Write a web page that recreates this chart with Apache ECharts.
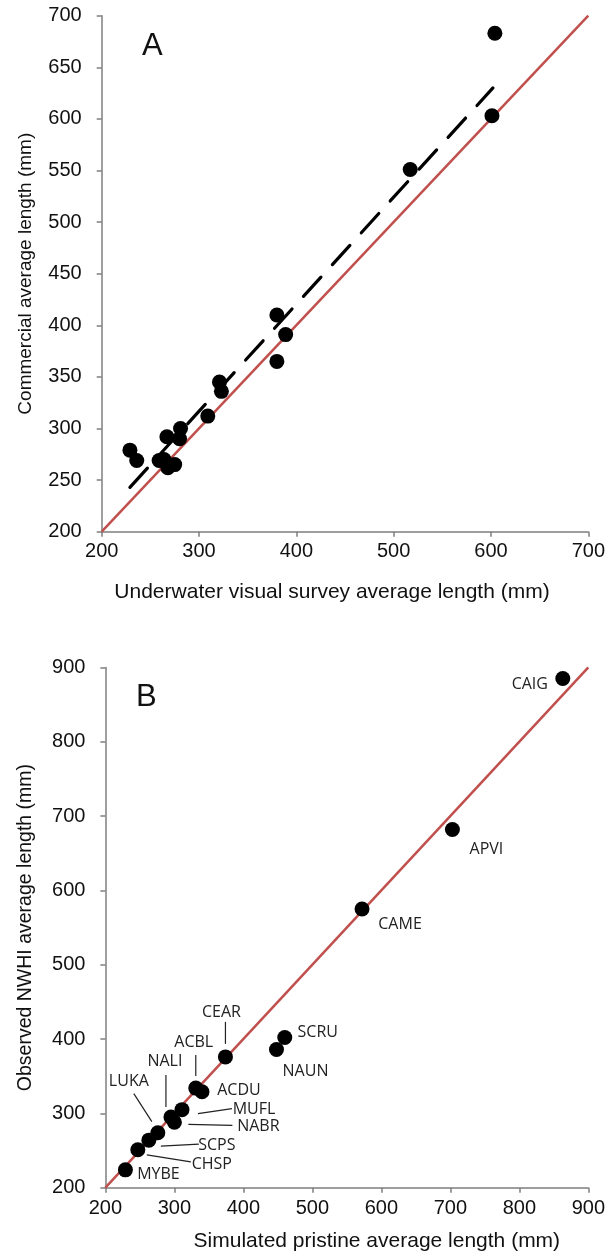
<!DOCTYPE html>
<html><head><meta charset="utf-8">
<script src="https://cdn.jsdelivr.net/npm/echarts@6/dist/echarts.min.js"></script>
<style>html,body{margin:0;padding:0;background:#fff}#c{width:608px;height:1259px}</style>
</head><body><div id="c"></div>
<script>
// ---------- Panel A data ----------
const aUVS        = [229, 236, 259, 264, 268, 275, 267, 280, 281, 309, 321, 323, 380, 380, 389, 517, 601, 604];
const aCommercial = [279, 269, 269, 270, 262, 265, 292, 290, 300, 312, 345, 336, 365, 410, 391, 551, 603, 683];
const aFitX = [229, 602];
const aFitY = [243, 630];
const aTicks = [200, 300, 400, 500, 600, 700];
const aYTicks = [200, 250, 300, 350, 400, 450, 500, 550, 600, 650, 700];

// ---------- Panel B data ----------
const bSpecies   = ['CAIG', 'APVI', 'CAME', 'SCRU', 'NAUN', 'CEAR', 'ACBL', 'ACDU', 'MUFL', 'NALI', 'NABR', 'LUKA', 'SCPS', 'CHSP', 'MYBE'];
const bSimulated = [863, 703, 572, 460, 448, 374, 331, 340, 311, 295, 300, 276, 263, 247, 229];
const bObserved  = [885, 682, 575, 402, 386, 376, 334, 329, 305, 295, 288, 274, 264, 251, 224];
const bTicks = [200, 300, 400, 500, 600, 700, 800, 900];

// ---------- label layout (pixels, relative to the point) ----------
const labelOffsets = {
  CAIG: [-33, 6], APVI: [34, 20], CAME: [38, 15], SCRU: [33, -5], NAUN: [29, 22],
  CEAR: [-4, -44], ACBL: [-2, -46], ACDU: [37, -1], MUFL: [72, 0], NALI: [-6, -56],
  NABR: [84, 4], LUKA: [-29, -51], SCPS: [68, 5], CHSP: [74, 15], MYBE: [33, 5]
};
const leaderLines = {
  CEAR: [[0, -35], [0, -13]], ACBL: [[0, -33], [0, -12]], MUFL: [[16, 4], [50, -1]],
  NALI: [[-5, -42], [-5, -10]], NABR: [[14, 2], [58, 3]], LUKA: [[-24, -39], [-6, -11]],
  SCPS: [[12, 6], [50, 4]], CHSP: [[9, 5], [53, 12]]
};

const RED = '#C0504D';
const AX = '#7f7f7f';
const tickFont = { fontFamily: 'Liberation Sans', fontSize: 20, color: '#111' };

function axisBase(ticks, extra) {
  return Object.assign({
    type: 'value', min: ticks[0], max: ticks[ticks.length - 1],
    interval: ticks[1] - ticks[0],
    splitLine: { show: false },
    axisLine: { show: true, onZero: false, lineStyle: { color: AX, width: 1.5 } },
    axisTick: { show: true, inside: false, length: 5, lineStyle: { color: AX, width: 1.5 } },
    axisLabel: Object.assign({}, tickFont),
    nameLocation: 'middle'
  }, extra);
}
function nameStyle(size, pad) {
  return { fontFamily: 'Liberation Sans', fontSize: size, color: '#111', padding: pad || 0 };
}

const chart = echarts.init(document.getElementById('c'), null, { renderer: 'canvas' });

const bData = bSpecies.map((n, i) => ({
  name: n, value: [bSimulated[i], bObserved[i]],
  label: { offset: labelOffsets[n] }
}));
const bLeader = bData.filter(d => leaderLines[d.name]);

chart.setOption({
  animation: false,
  backgroundColor: '#fff',
  title: [
    { text: 'A', left: 137, top: 26, textStyle: { fontFamily: 'Liberation Sans', fontSize: 31, fontWeight: 'normal', color: '#111' } },
    { text: 'B', left: 131, top: 677, textStyle: { fontFamily: 'Liberation Sans', fontSize: 31, fontWeight: 'normal', color: '#111' } }
  ],
  grid: [
    { left: 101.7, top: 15.7, width: 489.3, height: 516 },
    { left: 105.4, top: 667.4, width: 483, height: 520.3 }
  ],
  xAxis: [
    axisBase(aTicks, { gridIndex: 0, name: 'Underwater visual survey average length (mm)', nameGap: 50,
      nameTextStyle: nameStyle(21, [0, 26, 0, 0]), axisLabel: Object.assign({ margin: 10 }, tickFont) }),
    axisBase(bTicks, { gridIndex: 1, name: 'Simulated pristine average length (mm)', nameGap: 43,
      nameTextStyle: nameStyle(21, [0, 0, 0, 60]), axisLabel: Object.assign({ margin: 11 }, tickFont) })
  ],
  yAxis: [
    axisBase(aYTicks, { gridIndex: 0, name: 'Commercial average length (mm)', nameGap: 66,
      nameTextStyle: nameStyle(19, [0, 0, 0, 0]), axisLabel: Object.assign({ margin: 20 }, tickFont) }),
    axisBase(bTicks, { gridIndex: 1, name: 'Observed NWHI average length (mm)', nameGap: 70,
      nameTextStyle: nameStyle(19.5, [0, 0, 0, 0]), axisLabel: Object.assign({ margin: 20 }, tickFont) })
  ],
  series: [
    { type: 'line', xAxisIndex: 0, yAxisIndex: 0, data: [[aTicks[0], aTicks[0]], [aTicks[aTicks.length - 1], aTicks[aTicks.length - 1]]],
      symbol: 'none', lineStyle: { color: RED, width: 2.5 }, z: 1, silent: true },
    { type: 'line', xAxisIndex: 0, yAxisIndex: 0, data: aFitX.map((x, i) => [x, aFitY[i]]),
      symbol: 'none', lineStyle: { color: '#000', width: 3.2, type: [26, 17], cap: 'round' }, z: 2, silent: true },
    { type: 'scatter', xAxisIndex: 0, yAxisIndex: 0, data: aUVS.map((x, i) => [x, aCommercial[i]]),
      symbol: 'circle', symbolSize: 15, itemStyle: { color: '#000', opacity: 1 }, z: 3 },

    { type: 'line', xAxisIndex: 1, yAxisIndex: 1, data: [[bTicks[0], bTicks[0]], [bTicks[bTicks.length - 1], bTicks[bTicks.length - 1]]],
      symbol: 'none', lineStyle: { color: RED, width: 2.5 }, z: 1, silent: true },
    { type: 'custom', xAxisIndex: 1, yAxisIndex: 1, z: 2, silent: true,
      data: bLeader.map(d => d.value),
      renderItem: function (params, api) {
        const p = api.coord([api.value(0), api.value(1)]);
        const seg = leaderLines[bLeader[params.dataIndex].name];
        return { type: 'line', shape: { x1: p[0] + seg[0][0], y1: p[1] + seg[0][1], x2: p[0] + seg[1][0], y2: p[1] + seg[1][1] },
                 style: { stroke: '#222', lineWidth: 1.2 } };
      }
    },
    { type: 'scatter', xAxisIndex: 1, yAxisIndex: 1, data: bData,
      symbol: 'circle', symbolSize: 15, itemStyle: { color: '#000', opacity: 1 }, z: 3,
      label: {
        show: true, position: 'inside', formatter: '{b}',
        fontFamily: 'Open Sans', fontSize: 16, color: '#222'
      }
    }
  ]
});
</script>
</body></html>
